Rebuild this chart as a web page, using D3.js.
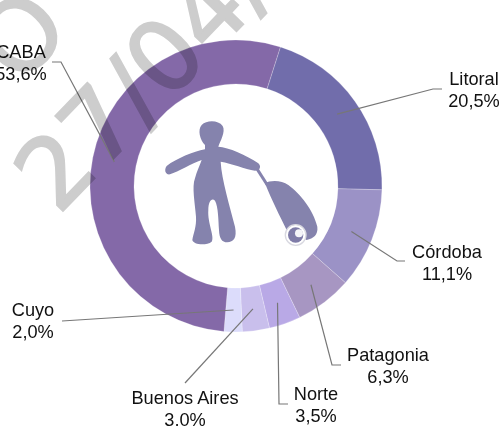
<!DOCTYPE html>
<html>
<head>
<meta charset="utf-8">
<script src="https://cdnjs.cloudflare.com/ajax/libs/d3/7.8.5/d3.min.js"></script>
<style>
	html, body { margin: 0; padding: 0; background: #fff; }
	svg { display: block; }
	text { font-family: "Liberation Sans", Arial, sans-serif; }
</style>
</head>
<body>
<svg id="chart" width="504" height="426"></svg>
<script>
var categories = ["Litoral", "Córdoba", "Patagonia", "Norte", "Buenos Aires", "Cuyo", "CABA"];
var shares = [20.5, 11.1, 6.3, 3.5, 3.0, 2.0, 53.6];
var shareLabels = ["20,5%", "11,1%", "6,3%", "3,5%", "3,0%", "2,0%", "53,6%"];
var colors = ["#716dab", "#9b92c6", "#a796c2", "#b9a9e6", "#c9bfec", "#dcdcfb", "#8469a8"];

// label centre and the leader's route, in page pixels
var labelAt = [[474, 85], [447, 258], [388, 361], [316, 400], [185, 404], [33, 316], [21, 58]];
var leaderTo = [
	[[433, 89], [442, 89]],
	[[397, 261], [405, 261]],
	[[332, 365], [341, 365]],
	[[279, 404], [288, 404]],
	[[185, 383]],
	[[62, 321]],
	[[61, 62], [52, 62]]
];

var cx = 236, cy = 186, outer = 146, inner = 102;
var start = 17.7 * Math.PI / 180;

var svg = d3.select("#chart");
var ring = svg.append("g").attr("transform", `translate(${cx},${cy})`);

var pie = d3.pie().sort(null).startAngle(start).endAngle(start + 2 * Math.PI);
var arc = d3.arc().innerRadius(inner).outerRadius(outer);
var slices = pie(shares);

ring.selectAll("path")
	.data(slices)
	.enter()
	.append("path")
	.attr("d", arc)
	.attr("fill", (d, i) => colors[i])
	.attr("stroke", "#fff")
	.attr("stroke-opacity", .45)
	.attr("stroke-width", .5);

// traveller in the hole at 3x
var icon = svg.append("g").attr("transform", "translate(150,110) scale(0.3333)");
icon.append("path")
	.attr("fill", "#8583ad")
	.attr("d", "M165,105C150,90 142,60 155,45C170,30 205,30 218,48C228,65 210,95 205,110C235,112 290,135 325,160C335,170 330,182 315,182C285,178 245,160 212,155C215,210 240,290 255,350C262,385 250,395 232,397C215,397 208,385 207,360C205,330 205,290 195,272C185,262 175,275 175,300C172,340 195,380 185,395C170,407 130,405 127,390C130,370 140,350 138,320C135,280 125,230 135,205C140,185 150,165 155,150C125,160 85,185 60,193C45,195 42,178 50,168C80,145 130,125 165,118Z");
icon.append("path")
	.attr("fill", "none")
	.attr("stroke", "#8583ad")
	.attr("stroke-width", 9)
	.attr("d", "M322,178L352,225");
icon.append("path")
	.attr("fill", "#8583ad")
	.attr("d", "M345,220C360,210 395,210 415,225C450,250 490,300 502,350C505,375 490,385 470,390L410,360C390,320 365,270 345,220Z");
icon.append("circle").attr("cx", 437).attr("cy", 375).attr("r", 31).attr("fill", "#fff").attr("stroke", "#d8d8e0").attr("stroke-width", 4);
icon.append("circle").attr("cx", 437).attr("cy", 375).attr("r", 23).attr("fill", "#7f7ca8");
icon.append("circle").attr("cx", 447).attr("cy", 370).attr("r", 12).attr("fill", "#f4f4f8");

// leaders run from each slice's centroid out to its label
var line = d3.line();
svg.append("g")
	.selectAll("path")
	.data(slices)
	.enter()
	.append("path")
	.attr("fill", "none")
	.attr("stroke", "#777")
	.attr("stroke-width", 1.2)
	.attr("d", (d, i) => {
		var c = arc.centroid(d);
		return line([[c[0] + cx, c[1] + cy]].concat(leaderTo[i]));
	});

var labels = svg.append("g")
	.selectAll("text")
	.data(categories)
	.enter()
	.append("text")
	.attr("text-anchor", "middle")
	.attr("font-size", 18.2)
	.attr("fill", "#111")
	.attr("transform", (d, i) => `translate(${labelAt[i][0]},${labelAt[i][1]})`);
labels.append("tspan").attr("x", 0).attr("y", 0).text(d => d);
labels.append("tspan").attr("x", 0).attr("y", 22).text((d, i) => shareLabels[i]);

// date stamp over everything
var stamp = svg.append("g")
	.style("mix-blend-mode", "multiply")
	.attr("fill", "#cdcdcd")
	.attr("stroke", "#cdcdcd")
	.attr("stroke-width", 2);
stamp.append("text")
	.attr("font-size", 98)
	.style("font-family", "'DejaVu Sans'")
	.attr("transform", "translate(58,216) rotate(-46)")
	.text("27/04/");
stamp.append("text")
	.attr("font-size", 98)
	.style("font-family", "'DejaVu Sans'")
	.attr("transform", "translate(19,87) rotate(-46)")
	.text("O");
</script>
</body>
</html>
